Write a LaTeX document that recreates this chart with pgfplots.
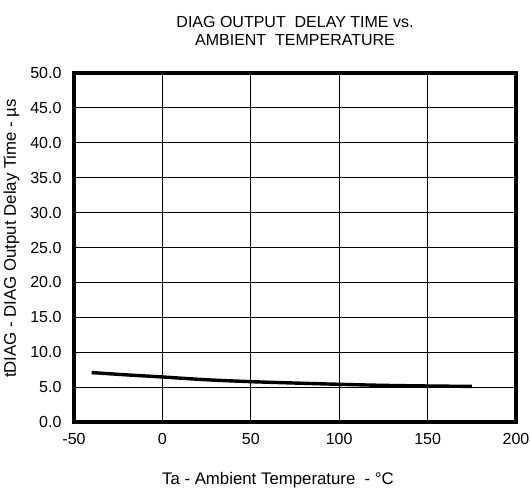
\documentclass[border=0pt]{standalone}
\usepackage{fontspec}
\setmainfont{Liberation Sans}
\usepackage{pgfplots}
\pgfplotsset{compat=1.18}

\begin{document}
\begin{tikzpicture}
\begin{axis}[
    scale only axis,
    width=442pt, height=349pt,
    xmin=-50, xmax=200,
    ymin=0, ymax=50,
    clip=false,
    xtick={-50,0,50,100,150,200},
    ytick={0,5,...,50},
    /pgf/number format/assume math mode=true,
    yticklabel style={xshift=-9pt, /pgf/number format/.cd, fixed, fixed zerofill, precision=1},
    ticklabel style={font=\fontsize{16}{18}\selectfont},
    xticklabel style={yshift=-8pt},
    tick style={draw=none},
    xmajorgrids=true, ymajorgrids=true,
    grid style={black, line width=0.8pt},
    title={DIAG OUTPUT\ \ DELAY TIME vs.\\AMBIENT\ \ TEMPERATURE},
    title style={font=\fontsize{16}{18}\selectfont, align=center, yshift=18pt},
    xlabel={Ta - Ambient Temperature\ \ - °C},
    ylabel={tDIAG - DIAG Output Delay Time - µs},
    label style={font=\fontsize{16.8}{19}\selectfont},
    xlabel style={yshift=-21pt, xshift=-17pt},
    ylabel style={yshift=4pt, xshift=9pt},
]
\addplot[black, line width=3.4pt, smooth] coordinates {
    (-40,7.08) (-20,6.75) (0,6.45) (25,6.05) (50,5.78) (75,5.58) (100,5.40) (125,5.25) (150,5.16) (175,5.10)
};
\draw[black, line width=3.6pt] (rel axis cs:0,0) rectangle (rel axis cs:1,1);
\coordinate (bl) at (rel axis cs:0,0);
\coordinate (tr) at (rel axis cs:1,1);
\end{axis}
\path (bl) ++(-74pt,-67pt) coordinate (p1);
\path (tr) ++(14pt,73pt) coordinate (p2);
\pgfresetboundingbox
\useasboundingbox (p1) rectangle (p2);
\end{tikzpicture}
\end{document}
